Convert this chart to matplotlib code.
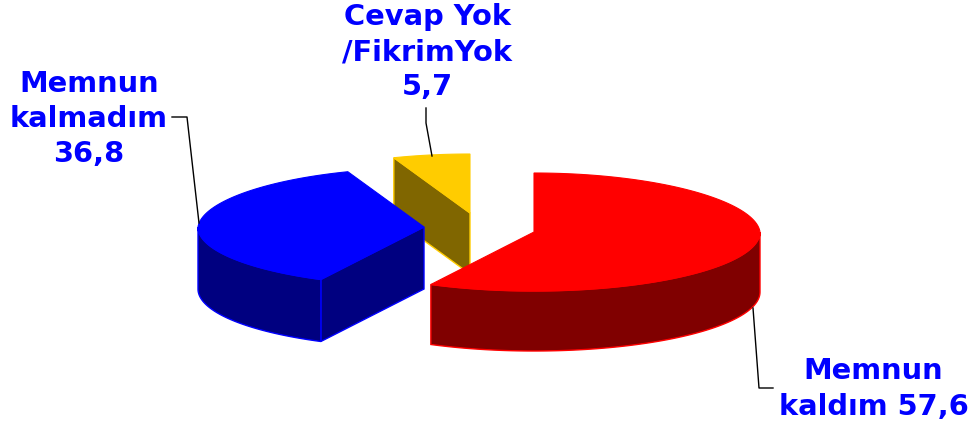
import numpy as np
import matplotlib
matplotlib.use("Agg")
import matplotlib.pyplot as plt
from matplotlib.patches import Polygon

labels = ["Memnun\nkaldım 57,6", "Memnun\nkalmadım\n36,8", "Cevap Yok\n/FikrimYok\n5,7"]
values = [57.6, 36.8, 5.7]
top_colors = ["#FF0000", "#0000FF", "#FFCC00"]
side_colors = ["#800000", "#000080", "#806600"]
centers = [(534, 232), (424, 227), (470, 213)]
depths = [60, 62, 61]
RX, RY = 226, 59
NARROW_BACK = 0.04
W, H = 974, 428

fig = plt.figure(figsize=(W / 100, H / 100), dpi=100)
ax = fig.add_axes([0, 0, 1, 1])
ax.set_xlim(0, W)
ax.set_ylim(H, 0)
ax.axis("off")


def rim(c, t0, t1, n=120):
    t = np.radians(np.linspace(t0, t1, n))
    narrow = 1 - NARROW_BACK * np.clip(np.cos(t), 0, None)
    return np.column_stack([c[0] + RX * np.sin(t) * narrow, c[1] - RY * np.cos(t)])


angles = np.concatenate([[0], np.cumsum(values) / np.sum(values) * 360])
for i in [2, 1, 0]:
    c, t0, t1 = centers[i], angles[i], angles[i + 1]
    top, side = top_colors[i], side_colors[i]
    down = np.array([0, depths[i]])
    apex = np.array(c, float)
    # cut faces: only the ones turned towards the viewer
    for a, sign in ((t0, -1), (t1, 1)):
        if sign * np.sin(np.radians(a)) > 1e-6:
            p = rim(c, a, a, 1)[0]
            ax.add_patch(Polygon([apex, p, p + down, apex + down], fc=side, ec=top, lw=1.0))
    # outer wall: front half of the rim only
    a0, a1 = max(t0, 90), min(t1, 270)
    if a1 > a0:
        arc = rim(c, a0, a1)
        ax.add_patch(Polygon(np.vstack([arc, arc[::-1] + down]), fc=side, ec=top, lw=1.0))
    ax.add_patch(Polygon(np.vstack([[apex], rim(c, t0, t1)]), fc=top, ec=top, lw=0.8))

leaders = [[(753, 308), (759, 388), (773, 388)],
           [(199, 223), (187, 117), (172, 117)],
           [(432, 156), (426, 123), (426, 108)]]
for pts in leaders:
    xs, ys = zip(*pts)
    ax.plot(xs, ys, color="black", lw=1.0)

pos = [(873.5, 389), (89, 119), (427, 52)]
for lab, (x, y) in zip(labels, pos):
    ax.text(x, y, lab, color="#0000FF", fontsize=20.8, fontweight="bold",
            family="DejaVu Sans", ha="center", va="center", linespacing=1.34)

fig.savefig("out.png", dpi=100)
